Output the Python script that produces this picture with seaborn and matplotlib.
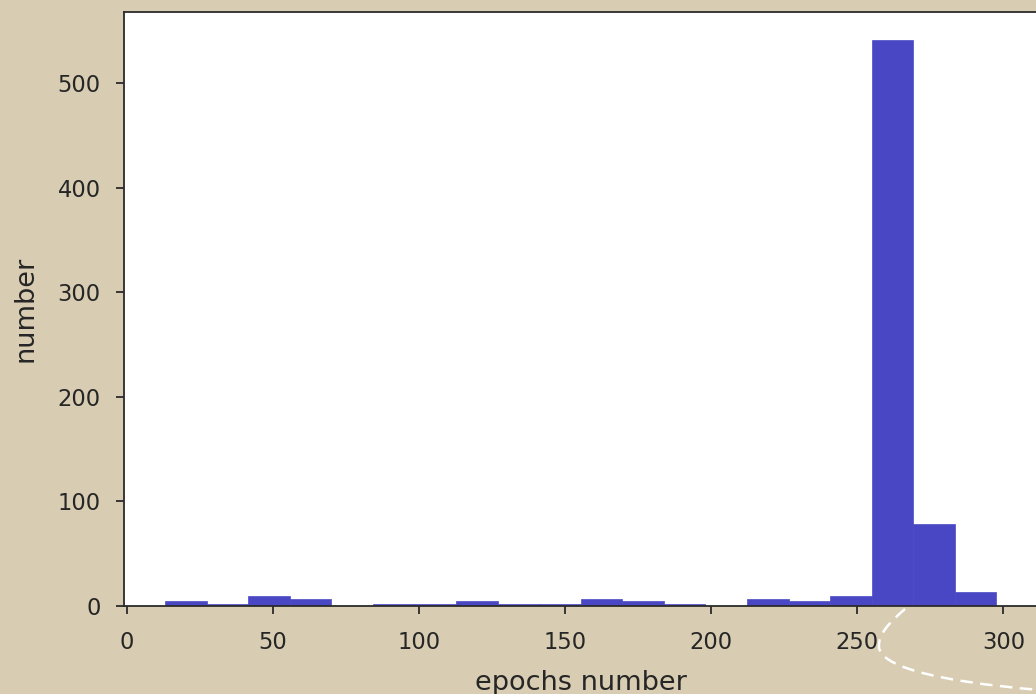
import numpy as np
import pandas as pd
import matplotlib
matplotlib.use("Agg")
import matplotlib.pyplot as plt
import seaborn as sns
from matplotlib.path import Path
from matplotlib.patches import PathPatch

# Histogram counts of the epoch at which training stopped (20 equal bins)
epoch_min = 13.0
epoch_max = 297.6
bin_counts = [5, 2, 10, 7, 0, 2, 2, 5, 2, 2, 7, 5, 2, 0, 7, 5, 10, 541, 78, 13]
x_ticks = [0, 50, 100, 150, 200, 250, 300]
y_ticks = [0, 100, 200, 300, 400, 500]
x_label = "epochs number"
y_label = "number"

n_bins = len(bin_counts)
bin_edges = np.linspace(epoch_min, epoch_max, n_bins + 1)
bin_centers = (bin_edges[:-1] + bin_edges[1:]) / 2
df = pd.DataFrame({"epoch": bin_centers, "count": bin_counts})

sns.set_style("ticks")
plt.rcParams.update({
    "font.family": ["DejaVu Sans"],
    "axes.edgecolor": "#2b2b2b",
    "axes.linewidth": 0.8,
    "xtick.color": "#2b2b2b",
    "ytick.color": "#2b2b2b",
    "xtick.labelcolor": "#262626",
    "ytick.labelcolor": "#262626",
    "xtick.major.size": 3.5,
    "ytick.major.size": 3.5,
    "xtick.major.width": 0.8,
    "ytick.major.width": 0.8,
})

W, H, DPI = 1036, 694, 163
bg = "#d8cdb2"
fig = plt.figure(figsize=(W / DPI, H / DPI), dpi=DPI, facecolor=bg)
ax = fig.add_axes([123.5 / W, 1 - 606 / H, (1038 - 123.5) / W, (606 - 12) / H])
ax.set_facecolor("white")

sns.histplot(data=df, x="epoch", weights="count", bins=n_bins,
             binrange=(epoch_min, epoch_max),
             color="#4a47c4", alpha=1.0, edgecolor="#4a47c4", linewidth=0.3,
             ax=ax)

ax.set_xticks(x_ticks)
ax.set_yticks(y_ticks)
ax.tick_params(axis="x", labelsize=10, pad=7.5)
ax.tick_params(axis="y", labelsize=10, pad=6.5)
ax.set_xlabel(x_label, fontsize=12, color="#262626", labelpad=7)
ax.set_ylabel(y_label, fontsize=12, color="#262626", labelpad=8.5)
for s in ax.spines.values():
    s.set_visible(True)

# dashed white curve in the lower-right margin
def px(x, y):
    return (x / W, 1 - y / H)

verts = [px(905, 609), px(890, 622), px(878, 634), px(879, 647),
         px(880, 665), px(930, 681), px(1040, 690)]
codes = [Path.MOVETO, Path.CURVE4, Path.CURVE4, Path.CURVE4,
         Path.CURVE4, Path.CURVE4, Path.CURVE4]
curve = PathPatch(Path(verts, codes), transform=fig.transFigure,
                  facecolor="none", edgecolor="white", linewidth=1.1,
                  linestyle=(0, (5, 3)))
fig.add_artist(curve)

fig.savefig("out.png", dpi=DPI, facecolor=bg)
